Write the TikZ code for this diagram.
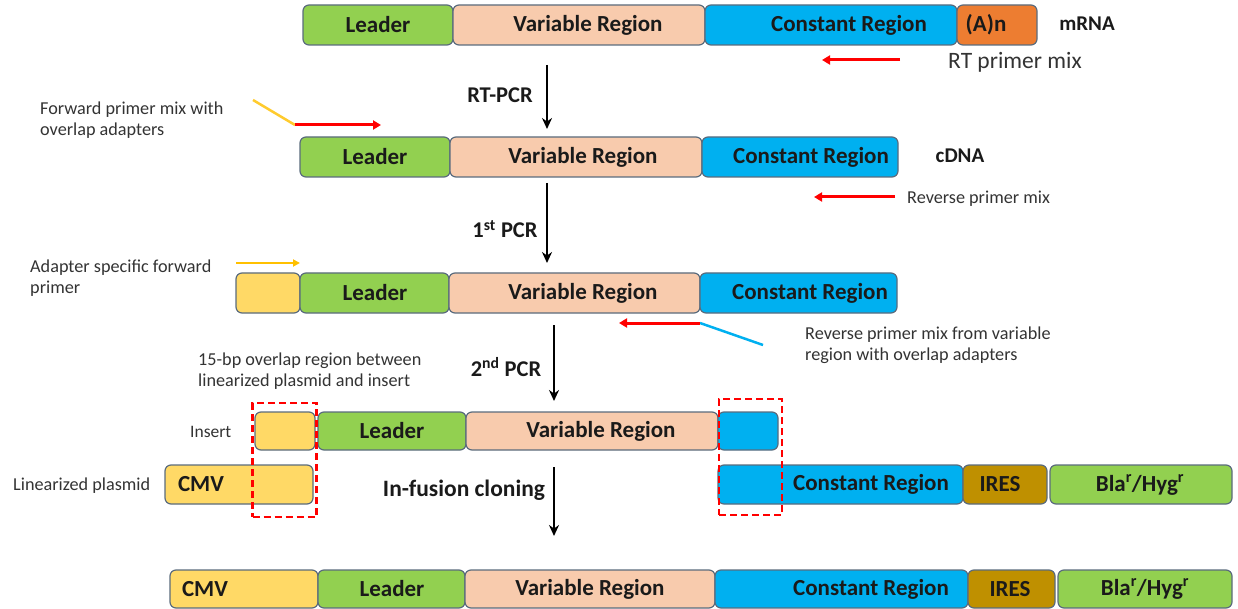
\documentclass[tikz,border=0pt]{standalone}
\usepackage{fontspec}
\setmainfont{Carlito}
\usetikzlibrary{arrows.meta}
\definecolor{cgreen}{HTML}{92D050}
\definecolor{cpeach}{HTML}{F8CBAD}
\definecolor{cblue}{HTML}{00B0F0}
\definecolor{corange}{HTML}{ED7D31}
\definecolor{cyellow}{HTML}{FFD966}
\definecolor{cires}{HTML}{BF9000}
\definecolor{cborder}{HTML}{5A6B7D}
\definecolor{cprimer}{HTML}{FFC000}
\definecolor{clight}{HTML}{FFE699}
\definecolor{cred}{HTML}{FF0000}
\definecolor{ctext}{HTML}{1A1A1A}
\definecolor{cnote}{HTML}{333333}
\newcommand\seg[8]{%
  \node[segbox, fill=#6, minimum width={(#3)-(#2)}, minimum height={(#5)-(#4)}] (#1) at ({((#2)+(#3))/2},{((#4)+(#5))/2}) {};
  \node[seglabel] (#1-t) at (#7,{((#4)+(#5))/2}) {#8};}
\begin{document}
\begin{tikzpicture}[x=1pt,y=-1pt,
  segbox/.style={draw=cborder, line width=1.2pt, rounded corners=6pt, inner sep=0pt},
  seglabel/.style={font=\fontsize{23}{26}\selectfont\bfseries, text=ctext, inner sep=0pt},
  note/.style={font=\fontsize{18.2}{21}\selectfont, text=cnote, align=left, inner sep=0pt, anchor=west},
  steplabel/.style={font=\fontsize{22.5}{26}\selectfont\bfseries, text=ctext, inner sep=0pt},
  steparrow/.style={-{Stealth[length=11pt,width=10pt]}, line width=2.6pt, black},
  redarrow/.style={-{Triangle[length=8pt,width=9pt]}, line width=3pt, cred},
  dashbox/.style={draw=cred, line width=2.2pt, dash pattern=on 7pt off 4pt}]
\useasboundingbox (0,0) rectangle (1238,609);

% Row 1: mRNA
\seg{m1}{303}{453}{5}{45}{cgreen}{378}{Leader}
\seg{m2}{453}{705}{5}{45}{cpeach}{588}{Variable Region}
\seg{m3}{705}{957}{5}{45}{cblue}{849}{Constant Region}
\seg{m4}{957}{1037}{5}{45}{corange}{986}{(A)n}
\node[seglabel, font=\fontsize{21}{24}\selectfont\bfseries] (mrna) at (1087,24) {mRNA};
\coordinate (rt1) at (900,60); \coordinate (rt2) at (822,60);
\draw[redarrow] (rt1) -- (rt2);
\node[note, font=\fontsize{23.5}{26}\selectfont] (rtlab) at (948,62) {RT primer mix};

% Step 1
\coordinate (s1a) at (547,65); \coordinate (s1b) at (547,129);
\draw[steparrow] (s1a) -- (s1b);
\node[steplabel] (s1l) at (500,95) {RT-PCR};

% Row 2: cDNA
\node[note] (fwd) at (40,120) {Forward primer mix with\\overlap adapters};
\coordinate (fy1) at (253,100); \coordinate (fy2) at (295,125); \coordinate (fr2) at (381,125);
\draw[cprimer!70!clight, line width=2.5pt] (fy1) -- (fy2);
\draw[redarrow] (fy2) -- (fr2);
\seg{c1}{300}{450}{137}{177}{cgreen}{375}{Leader}
\seg{c2}{450}{702}{137}{177}{cpeach}{583}{Variable Region}
\seg{c3}{702}{898}{137}{177}{cblue}{811}{Constant Region}
\node[seglabel, font=\fontsize{21}{24}\selectfont\bfseries] (cdna) at (960,156) {cDNA};
\coordinate (rv1) at (895,197); \coordinate (rv2) at (814,197);
\draw[redarrow] (rv1) -- (rv2);
\node[note] (rvlab) at (907,199) {Reverse primer mix};

% Step 2
\coordinate (s2a) at (547,183); \coordinate (s2b) at (547,263);
\draw[steparrow] (s2a) -- (s2b);
\node[steplabel] (s2l) at (505,229) {1\textsuperscript{st} PCR};

% Row 3
\node[note] (adl) at (30,278) {Adapter specific forward\\primer};
\coordinate (ya1) at (236,263); \coordinate (ya2) at (300,263);
\draw[-{Triangle[length=7pt,width=7pt]}, line width=2.5pt, cprimer] (ya1) -- (ya2);
\seg{p0}{236}{300}{273}{313}{cyellow}{268}{}
\seg{p1}{300}{449}{273}{313}{cgreen}{375}{Leader}
\seg{p2}{449}{700}{273}{313}{cpeach}{583}{Variable Region}
\seg{p3}{700}{897}{273}{313}{cblue}{810}{Constant Region}
\coordinate (rb1) at (763,345); \coordinate (rb2) at (700,323); \coordinate (rb3) at (619,323);
\draw[cblue, line width=2.5pt] (rb1) -- (rb2);
\draw[redarrow] (rb2) -- (rb3);
\node[note] (rvv) at (805,345) {Reverse primer mix from variable\\region with overlap adapters};

% Step 3
\coordinate (s3a) at (554,325); \coordinate (s3b) at (554,401);
\draw[steparrow] (s3a) -- (s3b);
\node[steplabel] (s3l) at (506,367) {2\textsuperscript{nd} PCR};
\node[note] (ovl) at (198,371) {15-bp overlap region between\\linearized plasmid and insert};

% Row 4: Insert
\node[note, font=\fontsize{17.5}{20}\selectfont] (ins) at (190,432) {Insert};
\seg{i0}{255}{315}{412}{450}{cyellow}{285}{}
\seg{i1}{318}{466}{412}{450}{cgreen}{392}{Leader}
\seg{i2}{466}{718}{412}{450}{cpeach}{601}{Variable Region}
\seg{i3}{718}{778}{412}{450}{cblue}{748}{}

% Row 5: Linearized plasmid
\node[note] (lin) at (13,486) {Linearized plasmid};
\seg{l0}{165}{313}{465}{504}{cyellow}{201}{CMV}
\seg{l3}{718}{963}{465}{504}{cblue}{871}{Constant Region}
\seg{l4}{963}{1047}{465}{504}{cires}{1000}{IRES}
\seg{l5}{1050}{1232}{465}{504}{cgreen}{1140}{Bla\textsuperscript{r}/Hyg\textsuperscript{r}}

% dashed overlap boxes
\node[dashbox, minimum width=64pt, minimum height=114pt, inner sep=0pt] (d1) at (284.5,460) {};
\node[dashbox, minimum width=63pt, minimum height=116pt, inner sep=0pt] (d2) at (750.5,457) {};

% Step 4
\coordinate (s4a) at (554,467); \coordinate (s4b) at (554,536);
\draw[steparrow] (s4a) -- (s4b);
\node[steplabel, font=\fontsize{23.5}{26}\selectfont\bfseries] (s4l) at (464,490) {In-fusion cloning};

% Row 6: final construct
\seg{f0}{170}{318}{570}{608}{cyellow}{205}{CMV}
\seg{f1}{318}{465}{570}{608}{cgreen}{392}{Leader}
\seg{f2}{465}{715}{570}{608}{cpeach}{590}{Variable Region}
\seg{f3}{715}{968}{570}{608}{cblue}{871}{Constant Region}
\seg{f4}{968}{1055}{570}{608}{cires}{1010}{IRES}
\seg{f5}{1058}{1232}{570}{608}{cgreen}{1145}{Bla\textsuperscript{r}/Hyg\textsuperscript{r}}
\end{tikzpicture}
\end{document}
